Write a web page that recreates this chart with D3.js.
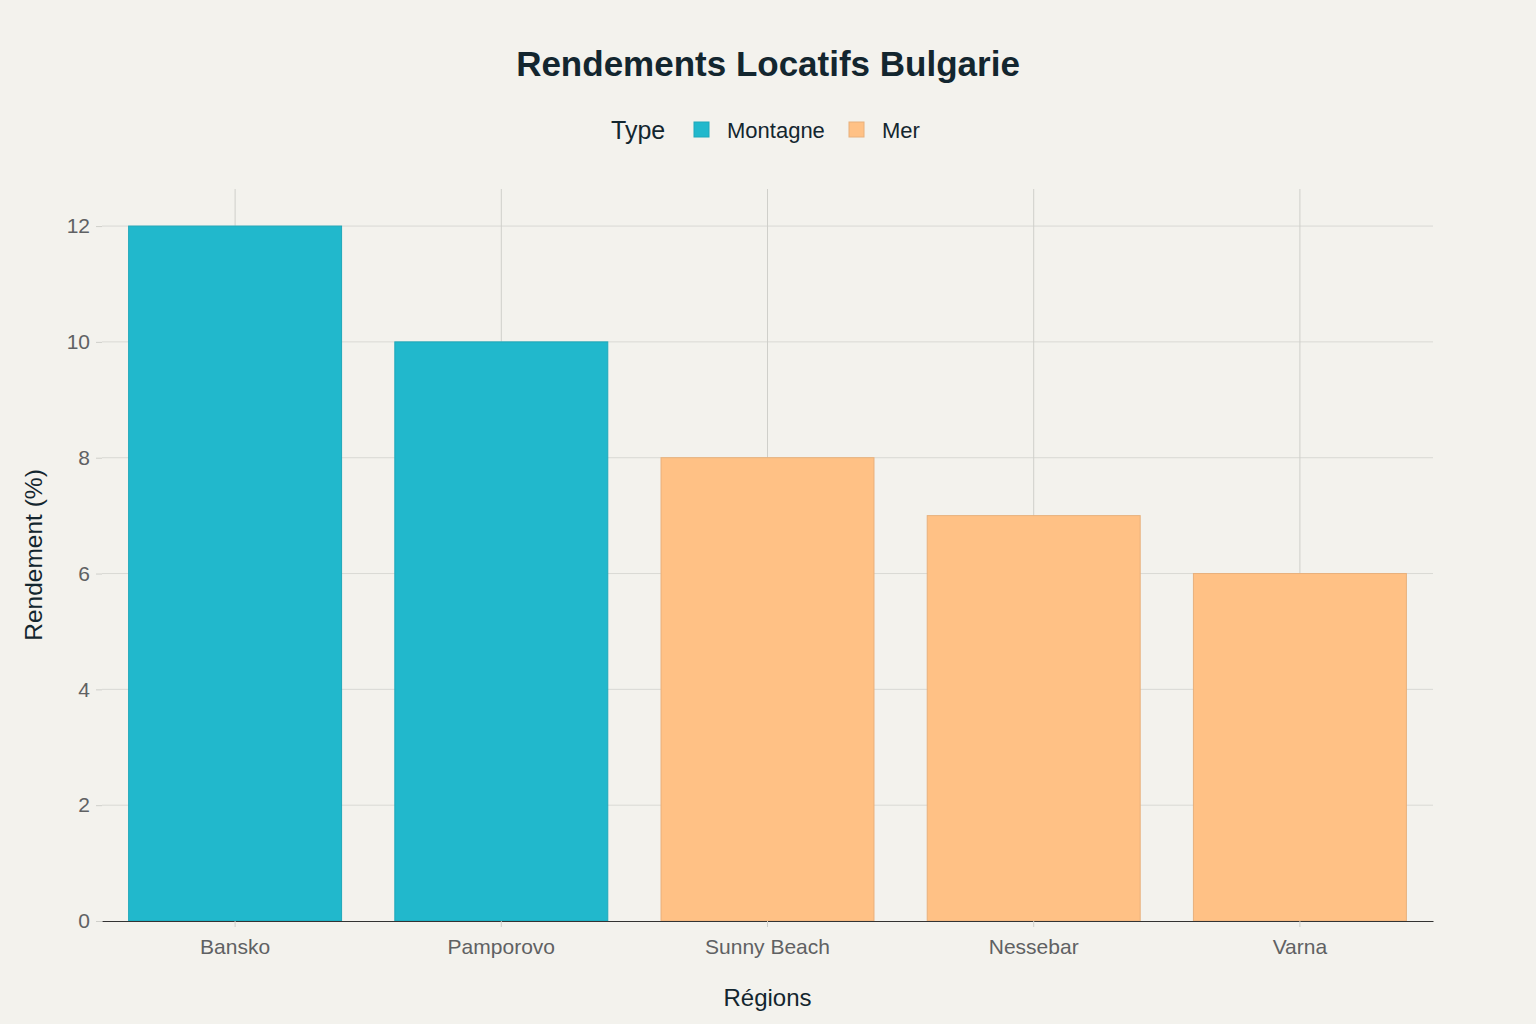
<!DOCTYPE html>
<html>
<head>
<meta charset="utf-8">
<script src="https://cdn.jsdelivr.net/npm/d3@7"></script>
<style>
  body { margin: 0; background: #f3f2ed; }
  svg { display: block; font-family: "Liberation Sans", Arial, sans-serif; }
</style>
</head>
<body>
<div id="vis"></div>
<script>
// data
const REGIONS = ["Bansko", "Pamporovo", "Sunny Beach", "Nessebar", "Varna"];
const YIELDS = [12, 10, 8, 7, 6];
const TYPES = ["Montagne", "Montagne", "Mer", "Mer", "Mer"];
const TYPE_NAMES = ["Montagne", "Mer"];
const Y_TICKS = [0, 2, 4, 6, 8, 10, 12];

const FRAME_WIDTH = 1536;
const FRAME_HEIGHT = 1024;
const MARGINS = {left: 102, right: 103, top: 189, bottom: 103};
const VIS_WIDTH = FRAME_WIDTH - MARGINS.left - MARGINS.right;
const VIS_HEIGHT = FRAME_HEIGHT - MARGINS.top - MARGINS.bottom;

const COLORS = {Montagne: "#21b8cc", Mer: "#ffc185"};
const STROKES = {Montagne: "#1fa8ba", Mer: "#e8b07c"};

const data = REGIONS.map((r, i) => ({region: r, value: YIELDS[i], type: TYPES[i]}));

const FRAME = d3.select("#vis")
  .append("svg")
    .attr("width", FRAME_WIDTH)
    .attr("height", FRAME_HEIGHT);

FRAME.append("rect")
  .attr("width", FRAME_WIDTH)
  .attr("height", FRAME_HEIGHT)
  .attr("fill", "#f3f2ed");

const X_SCALE = d3.scaleBand()
  .domain(REGIONS)
  .range([0, VIS_WIDTH])
  .paddingInner(0.2)
  .paddingOuter(0.1);

const Y_SCALE = d3.scaleLinear()
  .domain([0, 12.64])
  .range([VIS_HEIGHT, 0]);

const G = FRAME.append("g")
  .attr("transform", "translate(" + MARGINS.left + "," + MARGINS.top + ")");

// horizontal gridlines
G.selectAll(".hgrid")
  .data(Y_TICKS.filter(d => d > 0))
  .enter()
  .append("line")
    .attr("x1", 0)
    .attr("x2", VIS_WIDTH)
    .attr("y1", d => Y_SCALE(d))
    .attr("y2", d => Y_SCALE(d))
    .attr("stroke", "#d9d9d4")
    .attr("stroke-width", 1);

// vertical gridlines at category centers
G.selectAll(".vgrid")
  .data(REGIONS)
  .enter()
  .append("line")
    .attr("x1", d => X_SCALE(d) + X_SCALE.bandwidth() / 2)
    .attr("x2", d => X_SCALE(d) + X_SCALE.bandwidth() / 2)
    .attr("y1", 0)
    .attr("y2", VIS_HEIGHT)
    .attr("stroke", "#cfcfca")
    .attr("stroke-width", 1);

// bars
G.selectAll(".bar")
  .data(data)
  .enter()
  .append("rect")
    .attr("class", "bar")
    .attr("x", d => X_SCALE(d.region))
    .attr("y", d => Y_SCALE(d.value))
    .attr("width", X_SCALE.bandwidth())
    .attr("height", d => VIS_HEIGHT - Y_SCALE(d.value))
    .attr("fill", d => COLORS[d.type])
    .attr("stroke", d => STROKES[d.type])
    .attr("stroke-width", 1);

// x axis
const xAxis = G.append("g")
  .attr("transform", "translate(0," + VIS_HEIGHT + ")")
  .call(d3.axisBottom(X_SCALE).tickSize(6).tickSizeOuter(0).tickPadding(12));
xAxis.select(".domain").attr("stroke", "#333").attr("stroke-width", 1.2);
xAxis.selectAll(".tick line").attr("stroke", "#cfcfca");
xAxis.selectAll("text")
  .attr("font-size", 21)
  .attr("fill", "#5f6163")
  .attr("font-family", "Liberation Sans, Arial, sans-serif");

// y axis
const yAxis = G.append("g")
  .call(d3.axisLeft(Y_SCALE).tickValues(Y_TICKS).tickSize(6).tickPadding(6));
yAxis.select(".domain").remove();
yAxis.selectAll(".tick line").attr("stroke", "#cfcfca");
yAxis.selectAll("text")
  .attr("font-size", 21)
  .attr("fill", "#5f6163")
  .attr("font-family", "Liberation Sans, Arial, sans-serif");

// title
FRAME.append("text")
  .attr("x", FRAME_WIDTH / 2)
  .attr("y", 76)
  .attr("text-anchor", "middle")
  .attr("font-size", 35)
  .attr("font-weight", "bold")
  .attr("fill", "#13262f")
  .text("Rendements Locatifs Bulgarie");

// legend
const LEG = FRAME.append("g");
LEG.append("text")
  .attr("x", 611)
  .attr("y", 139)
  .attr("font-size", 25)
  .attr("fill", "#13262f")
  .text("Type");
const LEG_X = [694, 849];
TYPE_NAMES.forEach((t, i) => {
  LEG.append("rect")
    .attr("x", LEG_X[i])
    .attr("y", 122)
    .attr("width", 15)
    .attr("height", 15)
    .attr("fill", COLORS[t])
    .attr("stroke", STROKES[t]);
  LEG.append("text")
    .attr("x", LEG_X[i] + 33)
    .attr("y", 138)
    .attr("font-size", 22)
    .attr("fill", "#13262f")
    .text(t);
});

// axis titles
FRAME.append("text")
  .attr("x", MARGINS.left + VIS_WIDTH / 2)
  .attr("y", 1006)
  .attr("text-anchor", "middle")
  .attr("font-size", 24)
  .attr("fill", "#13262f")
  .text("Régions");

FRAME.append("text")
  .attr("transform", "translate(42," + (MARGINS.top + VIS_HEIGHT / 2) + ") rotate(-90)")
  .attr("text-anchor", "middle")
  .attr("font-size", 24.5)
  .attr("fill", "#13262f")
  .text("Rendement (%)");
</script>
</body>
</html>
